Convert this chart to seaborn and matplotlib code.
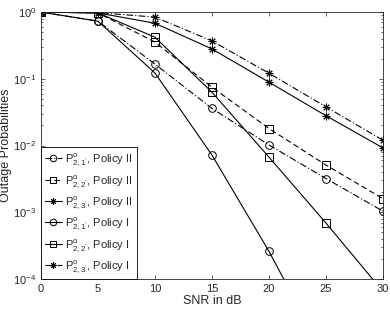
import seaborn as sns
import matplotlib.pyplot as plt
import numpy as np
import pandas as pd

snr = [0, 5, 10, 15, 20, 25, 30]

# Policy II curves
p21_pol2 = [1.0, 0.73, 0.166, 0.036, 0.0102, 0.0032, 0.00104]
p22_pol2 = [1.0, 0.97, 0.355, 0.075, 0.018, 0.0051, 0.0016]
p23_pol2 = [1.0, 0.97, 0.68, 0.28, 0.089, 0.028, 0.0092]
# Policy I curves
p21_pol1 = [1.0, 0.73, 0.122, 0.0072, 0.00026, 6.5e-6, 1.5e-7]
p22_pol1 = [1.0, 0.97, 0.42, 0.063, 0.0067, 0.00069, 6.5e-5]
p23_pol1 = [1.0, 0.98, 0.84, 0.37, 0.121, 0.038, 0.012]

labels = [r"$P^{o}_{2,1'}$, Policy II", r"$P^{o}_{2,2'}$, Policy II",
          r"$P^{o}_{2,3'}$, Policy II", r"$P^{o}_{2,1'}$, Policy I",
          r"$P^{o}_{2,2'}$, Policy I", r"$P^{o}_{2,3'}$, Policy I"]
series = [p21_pol2, p22_pol2, p23_pol2, p21_pol1, p22_pol1, p23_pol1]

dashdot = (0, (6, 2, 1, 2))
star = (8, 2, 0)
styles = [(dashdot, "o"), ((0, (5, 3)), "s"), ("-", star),
          ("-", "o"), ("-", "s"), (dashdot, star)]

sns.set_style("ticks")
plt.rcParams["font.family"] = ["Liberation Sans", "DejaVu Sans"]
plt.rcParams["mathtext.default"] = "regular"
plt.rcParams["xtick.direction"] = "in"
plt.rcParams["ytick.direction"] = "in"

fig = plt.figure(figsize=(3.9, 3.09), dpi=100)
ax = fig.add_axes([0.105, 0.097, 0.877, 0.864])

for lab, vals, (ls, mk) in zip(labels, series, styles):
    df = pd.DataFrame({"snr": snr, "p": vals})
    sns.lineplot(data=df, x="snr", y="p", ax=ax, color="black", lw=0.8,
                 linestyle=ls, marker=mk, markersize=5.5,
                 markerfacecolor="none", markeredgecolor="black",
                 markeredgewidth=0.7, label=lab)

ax.set_yscale("log")
ax.set_xlim(0, 30)
ax.set_ylim(1e-4, 1)
ax.set_xticks([0, 5, 10, 15, 20, 25, 30])
ax.set_xlabel("SNR in dB", fontsize=9, labelpad=1)
ax.set_ylabel("Outage Probabilities", fontsize=9)
ax.yaxis.set_label_coords(-0.085, 0.5)
ax.tick_params(labelsize=8, top=True, right=True, which="both", width=0.5)
ax.tick_params(which="major", length=3)
ax.tick_params(which="minor", length=1.5)
for s in ax.spines.values():
    s.set_linewidth(0.6)

leg = ax.legend(loc="lower left", borderaxespad=0, fancybox=False,
                edgecolor="black", framealpha=1, fontsize=8,
                handlelength=1.5, handletextpad=0.35, labelspacing=0.4,
                borderpad=0.35, markerscale=0.85)
leg.get_frame().set_linewidth(0.6)

fig.savefig("out.png", dpi=100)
